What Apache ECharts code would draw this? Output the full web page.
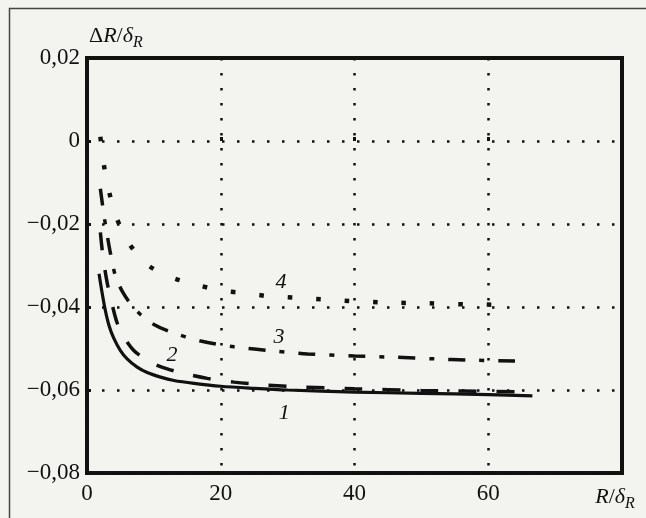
<!DOCTYPE html>
<html>
<head>
<meta charset="utf-8">
<script src="https://cdn.jsdelivr.net/npm/echarts@6/dist/echarts.min.js"></script>
<style>
  html, body { margin: 0; padding: 0; background: #f3f3f0; }
  #chart { width: 646px; height: 518px; }
</style>
</head>
<body>
<div id="chart"></div>
<script>
// curve 1 - solid
const x1 = [1.8, 2.2, 2.7, 3.3, 4, 5, 6, 7.5, 9, 11, 13, 16, 20, 25, 30, 40, 50, 60, 66.6]
const y1 = [-0.032, -0.036, -0.0405, -0.0445, -0.0475, -0.0505, -0.0525, -0.0545, -0.0558, -0.0569, -0.0577, -0.0584, -0.0591, -0.0596, -0.0600, -0.0605, -0.0608, -0.0611, -0.0614]

// curve 2 - dashed
const x2 = [2, 2.4, 3, 3.7, 4.5, 5.5, 7, 8.5, 10, 12, 15, 18, 22, 26, 31, 40, 50, 64]
const y2 = [-0.022, -0.028, -0.034, -0.039, -0.0438, -0.0472, -0.0505, -0.0523, -0.0537, -0.0549, -0.0562, -0.0572, -0.0581, -0.0587, -0.0592, -0.0597, -0.0601, -0.0604]

// curve 3 - dash-dot
const x3 = [2, 2.5, 3, 3.5, 4.3, 5.3, 6.5, 8, 10, 12.5, 17, 22, 28, 33, 40, 46, 52, 57, 64]
const y3 = [-0.0115, -0.0175, -0.0225, -0.027, -0.0328, -0.0363, -0.0392, -0.0418, -0.0442, -0.0460, -0.0482, -0.0496, -0.0506, -0.0513, -0.0518, -0.0521, -0.0525, -0.0528, -0.0530]

// curve 4 - dotted
const x4 = [2, 2.5, 3.3, 4.4, 6.1, 8.7, 12, 16, 20, 23.3, 27.2, 31.5, 35.8, 40, 44.2, 50.9, 55.1, 59.6, 64]
const y4 = [0.001, -0.0055, -0.0122, -0.0184, -0.0242, -0.0294, -0.0325, -0.0345, -0.0360, -0.0366, -0.0374, -0.0378, -0.0382, -0.0386, -0.0389, -0.0391, -0.0393, -0.0394, -0.0396]

const xTickLabels = ['0', '20', '40', '60']
const yTickLabels = ['−0,08', '−0,06', '−0,04', '−0,02', '0', '0,02']
const curveNames = ['1', '2', '3', '4']

const zip = (xs, ys) => xs.map((x, i) => [x, ys[i]])

const serif = 'Liberation Serif'
const ink = '#111'

const nameRich = {
  u: { fontFamily: serif, fontSize: 22, color: ink, lineHeight: 30 },
  i: { fontFamily: serif, fontSize: 22, fontStyle: 'italic', color: ink, lineHeight: 30 },
  s: { fontFamily: serif, fontSize: 16, fontStyle: 'italic', color: ink, lineHeight: 16, verticalAlign: 'bottom' },
  p: { width: 14 }
}

const curveLabel = (text, coord) => ({
  symbol: 'circle',
  symbolSize: 1,
  itemStyle: { color: 'transparent' },
  label: {
    show: true,
    position: 'inside',
    formatter: text,
    fontFamily: serif,
    fontStyle: 'italic',
    fontSize: 22,
    color: ink
  },
  data: [{ coord }]
})

const lineSeries = (name, data, lineStyle, labelCoord) => ({
  name,
  type: 'line',
  data,
  showSymbol: false,
  smooth: 0.3,
  lineStyle: Object.assign({ color: ink, cap: 'butt' }, lineStyle),
  markPoint: curveLabel(name, labelCoord),
  z: 3
})

const chart = echarts.init(document.getElementById('chart'))

chart.setOption({
  backgroundColor: '#f3f3f0',
  animation: false,
  grid: {
    left: 87,
    right: 24,
    top: 58,
    bottom: 45,
    show: true,
    borderColor: ink,
    borderWidth: 4,
    backgroundColor: 'transparent'
  },
  graphic: [{
    type: 'rect',
    silent: true,
    shape: { x: 9.5, y: 8.5, width: 700, height: 600 },
    style: { fill: 'none', stroke: '#444', lineWidth: 1.5 }
  }],
  xAxis: {
    type: 'value',
    min: 0,
    max: 80,
    interval: 20,
    axisLine: { show: false },
    axisTick: { show: true, inside: true, length: 4, lineStyle: { color: ink, width: 3 } },
    splitLine: { show: true, lineStyle: { color: ink, width: 2.5, type: [2.5, 12.5] } },
    axisLabel: {
      margin: 9,
      fontFamily: serif,
      fontSize: 23,
      color: ink,
      rich: nameRich,
      formatter: (v, i) => i < xTickLabels.length ? xTickLabels[i] : '{i|R}{u|/}{i|δ}{s|R}{p|}'
    }
  },
  yAxis: {
    type: 'value',
    min: -0.08,
    max: 0.02,
    interval: 0.02,
    name: '{u|Δ}{i|R}{u|/}{i|δ}{s|R}',
    nameLocation: 'end',
    nameGap: 7,
    nameTextStyle: { align: 'left', verticalAlign: 'bottom', padding: [0, 0, 0, 2], rich: nameRich },
    axisLine: { show: false },
    axisTick: { show: true, inside: true, length: 4, lineStyle: { color: ink, width: 3 } },
    splitLine: { show: true, lineStyle: { color: ink, width: 2.5, type: [2.5, 12.5] } },
    axisLabel: {
      margin: 7,
      fontFamily: serif,
      fontSize: 23,
      color: ink,
      formatter: (v, i) => yTickLabels[i]
    }
  },
  series: [
    lineSeries(curveNames[0], zip(x1, y1), { width: 3.2, type: 'solid' }, [29.5, -0.0656]),
    lineSeries(curveNames[1], zip(x2, y2), { width: 3.5, type: [18, 20] }, [12.7, -0.0515]),
    lineSeries(curveNames[2], zip(x3, y3), { width: 3.5, type: [17, 14, 5, 14] }, [28.7, -0.0473]),
    lineSeries(curveNames[3], zip(x4, y4), { width: 4.5, type: [4.5, 24] }, [29, -0.0341])
  ]
})
</script>
</body>
</html>
